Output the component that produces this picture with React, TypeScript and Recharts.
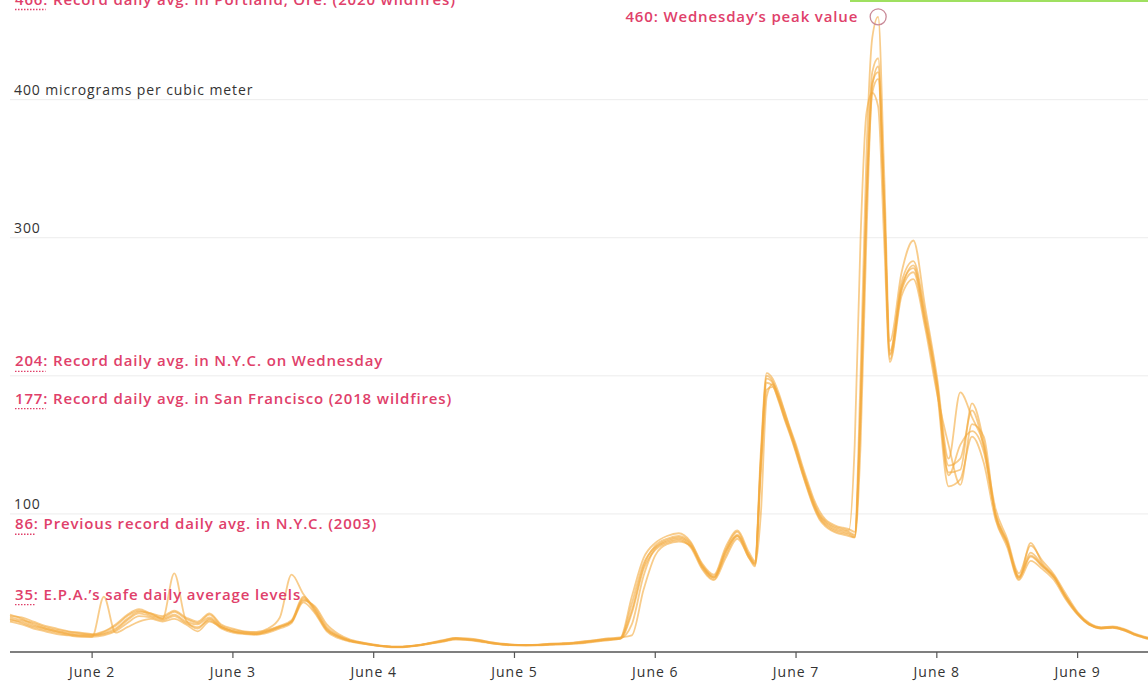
import { LineChart, Line, XAxis, YAxis, ReferenceLine, ReferenceDot } from "recharts";

// hours since June 1, 00:00
const hours = [
  10, 12, 14, 16, 18, 20, 22, 24,
  26, 28, 30, 32, 34, 36, 38, 40,
  42, 44, 46, 48, 50, 52, 54, 56,
  58, 60, 62, 64, 66, 68, 70, 72,
  74, 76, 78, 80, 82, 84, 86, 88,
  90, 92, 94, 96, 98, 100, 102, 104,
  106, 108, 110, 112, 114, 116, 118, 120,
  122, 124, 126, 128, 130, 132, 134, 136,
  137, 138, 139, 140, 141, 142, 143, 144,
  145, 146, 147, 148, 149, 150, 151, 152,
  153, 154, 155, 156, 157, 158, 159, 160,
  162, 164, 166, 168, 170, 172, 174, 176,
  178, 180, 182, 184, 186, 188, 190, 192,
  194, 196, 198, 200, 202, 204,
];

const sensorA = [
  25, 23, 21, 18, 16, 14.5, 13.5, 12.5,
  14.5, 19, 26, 30, 27, 25, 29, 24,
  21, 27, 19, 16, 14.5, 14, 16, 19,
  23, 40, 30, 16, 11, 8, 6.5, 5,
  4, 3.6, 4, 5, 6.5, 8, 9.5, 9,
  8, 6.5, 5.5, 5, 5, 5, 5.5, 5.5,
  6, 6.5, 7.5, 8.5, 9.5, 35, 64, 76,
  81, 83, 78, 62, 54, 72, 85, 70,
  64, 140, 200, 196, 185, 172, 160, 147,
  133, 120, 108, 99, 94, 91, 89, 88,
  87, 85, 180, 330, 420, 430, 330, 218,
  265, 278, 240, 195, 128, 150, 160, 145,
  100, 79, 54, 69, 62, 54, 40, 28,
  20, 17.5, 18, 16, 12.5, 10,
];

const sensorB = [
  27, 24, 20, 17, 15, 13.5, 12.5, 12,
  13.5, 17, 24, 29, 28, 24, 27, 22,
  20, 25, 18, 15, 13.5, 13, 15, 18,
  22, 38, 32, 18, 12, 8.5, 6.5, 5,
  4.2, 3.8, 4.2, 5.2, 6.8, 8.5, 10, 9.5,
  8.5, 7, 5.8, 5.2, 5, 5.2, 5.8, 6,
  6.3, 7, 8, 9, 10, 40, 68, 79,
  84, 86, 80, 64, 56, 76, 88, 72,
  66, 145, 202, 198, 188, 175, 162, 150,
  136, 123, 111, 102, 96, 93, 91, 90,
  89, 87, 200, 360, 445, 460, 350, 225,
  275, 298, 250, 200, 140, 188, 170, 150,
  104, 82, 57, 77, 66, 56, 42, 29,
  21, 18, 18.5, 16.5, 13, 10.5,
];

const sensorC = [
  22, 20, 17, 15, 13, 12, 11, 11,
  12, 15, 21, 26, 25, 23, 26, 21,
  18, 23, 17, 14, 13, 12.5, 14, 17,
  21, 36, 28, 15, 10, 7.5, 6, 4.8,
  3.8, 3.4, 3.8, 4.8, 6.2, 7.6, 9, 8.6,
  7.6, 6.2, 5.2, 4.8, 4.7, 4.8, 5.2, 5.6,
  6, 7, 8, 9, 9.5, 28, 60, 74,
  79, 81, 76, 60, 52, 68, 82, 68,
  62, 130, 190, 192, 182, 169, 157, 144,
  130, 117, 105, 96, 91, 88, 86, 85,
  84, 83, 150, 300, 410, 424, 320, 212,
  262, 275, 238, 190, 120, 125, 156, 137,
  96, 76, 52, 66, 60, 52, 38, 27,
  19.5, 17, 17.5, 15.5, 12, 9.5,
];

const sensorD = [
  26, 25, 22, 19, 17, 15, 14, 13,
  15, 20, 27, 31, 28, 26, 30, 25,
  22, 28, 20, 17, 15, 14.5, 17, 25,
  56, 42, 31, 17, 11.5, 8, 6.8, 5.2,
  4.1, 3.7, 4.1, 5.1, 6.6, 8.2, 9.8, 9.2,
  8.2, 6.6, 5.6, 5.1, 5, 5, 5.6, 6,
  6.6, 7.6, 8.6, 9.6, 10, 30, 62, 77,
  82, 84, 79, 63, 55, 74, 87, 70,
  65, 138, 198, 195, 184, 171, 159, 146,
  132, 119, 107, 98, 93, 90, 88, 87,
  86, 84, 170, 320, 405, 415, 325, 215,
  268, 283, 245, 196, 135, 140, 175, 148,
  100, 80, 55, 72, 63, 55, 40, 28,
  20.5, 17.5, 18, 16, 12.5, 10,
];

const sensorE = [
  24, 21, 18, 16, 14, 12.5, 11.5, 11,
  40, 14, 18, 22, 24, 22, 24, 20,
  15, 22, 18, 15, 13.5, 13, 15, 18,
  22, 37, 33, 20, 13, 9, 7, 5.5,
  4.3, 3.9, 4.3, 5.3, 7, 8.8, 10.2, 9.8,
  8.8, 7.2, 6, 5.4, 5.1, 5.3, 6, 6.3,
  6.8, 7.8, 8.8, 9.8, 10.5, 12, 45, 70,
  78, 80, 77, 61, 53, 73, 84, 69,
  63, 100, 185, 194, 186, 174, 161, 148,
  134, 121, 109, 100, 95, 92, 90, 89,
  88, 150, 300, 390, 405, 395, 300, 210,
  258, 270, 235, 188, 150, 121, 165, 156,
  98, 78, 53, 79, 64, 54, 39, 27.5,
  20, 17, 17.5, 15.5, 12, 9.5,
];

const sensorF = [
  23, 22, 19, 17, 15, 13, 12, 12,
  13, 16, 23, 28, 26, 24, 57, 23,
  17, 24, 18, 15, 14, 13.5, 15.5, 18.5,
  22, 39, 29, 16, 11, 8, 6.2, 5,
  4, 3.6, 4, 5, 6.5, 8, 9.6, 9,
  8, 6.5, 5.5, 5, 4.9, 5, 5.5, 5.9,
  6.4, 7.2, 8.2, 9.2, 9.8, 20, 55, 75,
  80, 82, 77, 62, 54, 70, 84, 68,
  64, 135, 195, 193, 183, 170, 158, 145,
  131, 118, 106, 97, 92, 89, 87, 86,
  85, 83, 175, 325, 412, 420, 328, 216,
  263, 280, 242, 193, 130, 132, 180, 152,
  99, 79, 54, 70, 62, 54, 40, 28,
  20, 17.5, 18, 16, 12.5, 10,
];

const dayTicks = [24, 48, 72, 96, 120, 144, 168, 192];
const dayLabels = ["June 2", "June 3", "June 4", "June 5", "June 6", "June 7", "June 8", "June 9"];

const gridValues = [100, 200, 300, 400];
const gridLabels = ["100", "", "300", "400 micrograms per cubic meter"];

const noteValues = [466, 204, 177, 86, 35];
const noteTexts = [
  "Record daily avg. in Portland, Ore. (2020 wildfires)",
  "Record daily avg. in N.Y.C. on Wednesday",
  "Record daily avg. in San Francisco (2018 wildfires)",
  "Previous record daily avg. in N.Y.C. (2003)",
  "E.P.A.’s safe daily average levels",
];

const peak = { h: 158, value: 460, text: "Wednesday’s peak value" };

const series = [sensorA, sensorB, sensorC, sensorD, sensorE, sensorF];
const data = hours.map((h, i) => {
  const row: Record<string, number> = { h };
  series.forEach((s, j) => (row["s" + j] = s[i]));
  return row;
});

const PINK = "#e0406a";
const FONT = "'Open Sans', sans-serif";

function NoteLabel({ viewBox, num, text }: any) {
  const y = viewBox.y;
  const numW = String(num).length * 10.2;
  return (
    <g>
      <text x={15} y={y - 4} fill={PINK} fontSize={15} fontWeight={600} letterSpacing={0.85} fontFamily={FONT}>
        {`${num}: ${text}`}
      </text>
      <line x1={15} x2={15 + numW} y1={y + 1} y2={y + 1} stroke={PINK} strokeWidth={1.3} strokeDasharray="1.5 1.5" />
    </g>
  );
}

function GridLabel({ viewBox, text }: any) {
  return (
    <text x={14} y={viewBox.y - 5} fill="#333" fontSize={14} letterSpacing={0.9} fontFamily={FONT}>
      {text}
    </text>
  );
}

function PeakLabel({ viewBox, text, num }: any) {
  const cx = viewBox.x + viewBox.width / 2;
  const cy = viewBox.y + viewBox.height / 2;
  return (
    <text x={cx - 20} y={cy + 5} textAnchor="end" fill={PINK} fontSize={15} fontWeight={600} letterSpacing={0.85} fontFamily={FONT}>
      {`${num}: ${text}`}
    </text>
  );
}

export default function App() {
  return (
    <div style={{ position: "absolute", left: 0, top: 0, width: 1148, height: 686, background: "#fff" }}>
      <div style={{ position: "absolute", left: 850, top: 0, width: 298, height: 2, background: "#9fe060" }} />
      <LineChart width={1148} height={686} data={data} margin={{ top: 3, right: 0, bottom: 0, left: 10 }}>
        <XAxis
          dataKey="h"
          type="number"
          domain={[10, 204]}
          ticks={dayTicks}
          tickFormatter={(v: number) => dayLabels[dayTicks.indexOf(v)]}
          height={34}
          axisLine={{ stroke: "#555", strokeWidth: 1.5 }}
          tickLine={{ stroke: "#555", strokeWidth: 1.2 }}
          tickSize={6}
          tickMargin={9}
          tick={{ fontSize: 14, fill: "#333", fontFamily: FONT, letterSpacing: 1 }}
        />
        <YAxis hide domain={[0, 470]} />
        {gridValues.map((v, i) => (
          <ReferenceLine
            key={"g" + v}
            y={v}
            stroke="#ececec"
            strokeWidth={1}
            label={(p: any) => <GridLabel {...p} text={gridLabels[i]} />}
          />
        ))}
        {series.map((_, j) => (
          <Line
            key={j}
            dataKey={"s" + j}
            type="monotone"
            stroke="#f3aa3e"
            strokeOpacity={0.6}
            strokeWidth={1.8}
            dot={false}
            isAnimationActive={false}
          />
        ))}
        {noteValues.map((v, i) => (
          <ReferenceLine
            key={"n" + v}
            y={v}
            stroke="none"
            label={(p: any) => <NoteLabel {...p} num={v} text={noteTexts[i]} />}
          />
        ))}
        <ReferenceDot
          x={peak.h}
          y={peak.value}
          r={8}
          fill="none"
          stroke="#c98a98"
          strokeWidth={1.3}
          label={(p: any) => <PeakLabel {...p} num={peak.value} text={peak.text} />}
        />
      </LineChart>
    </div>
  );
}
